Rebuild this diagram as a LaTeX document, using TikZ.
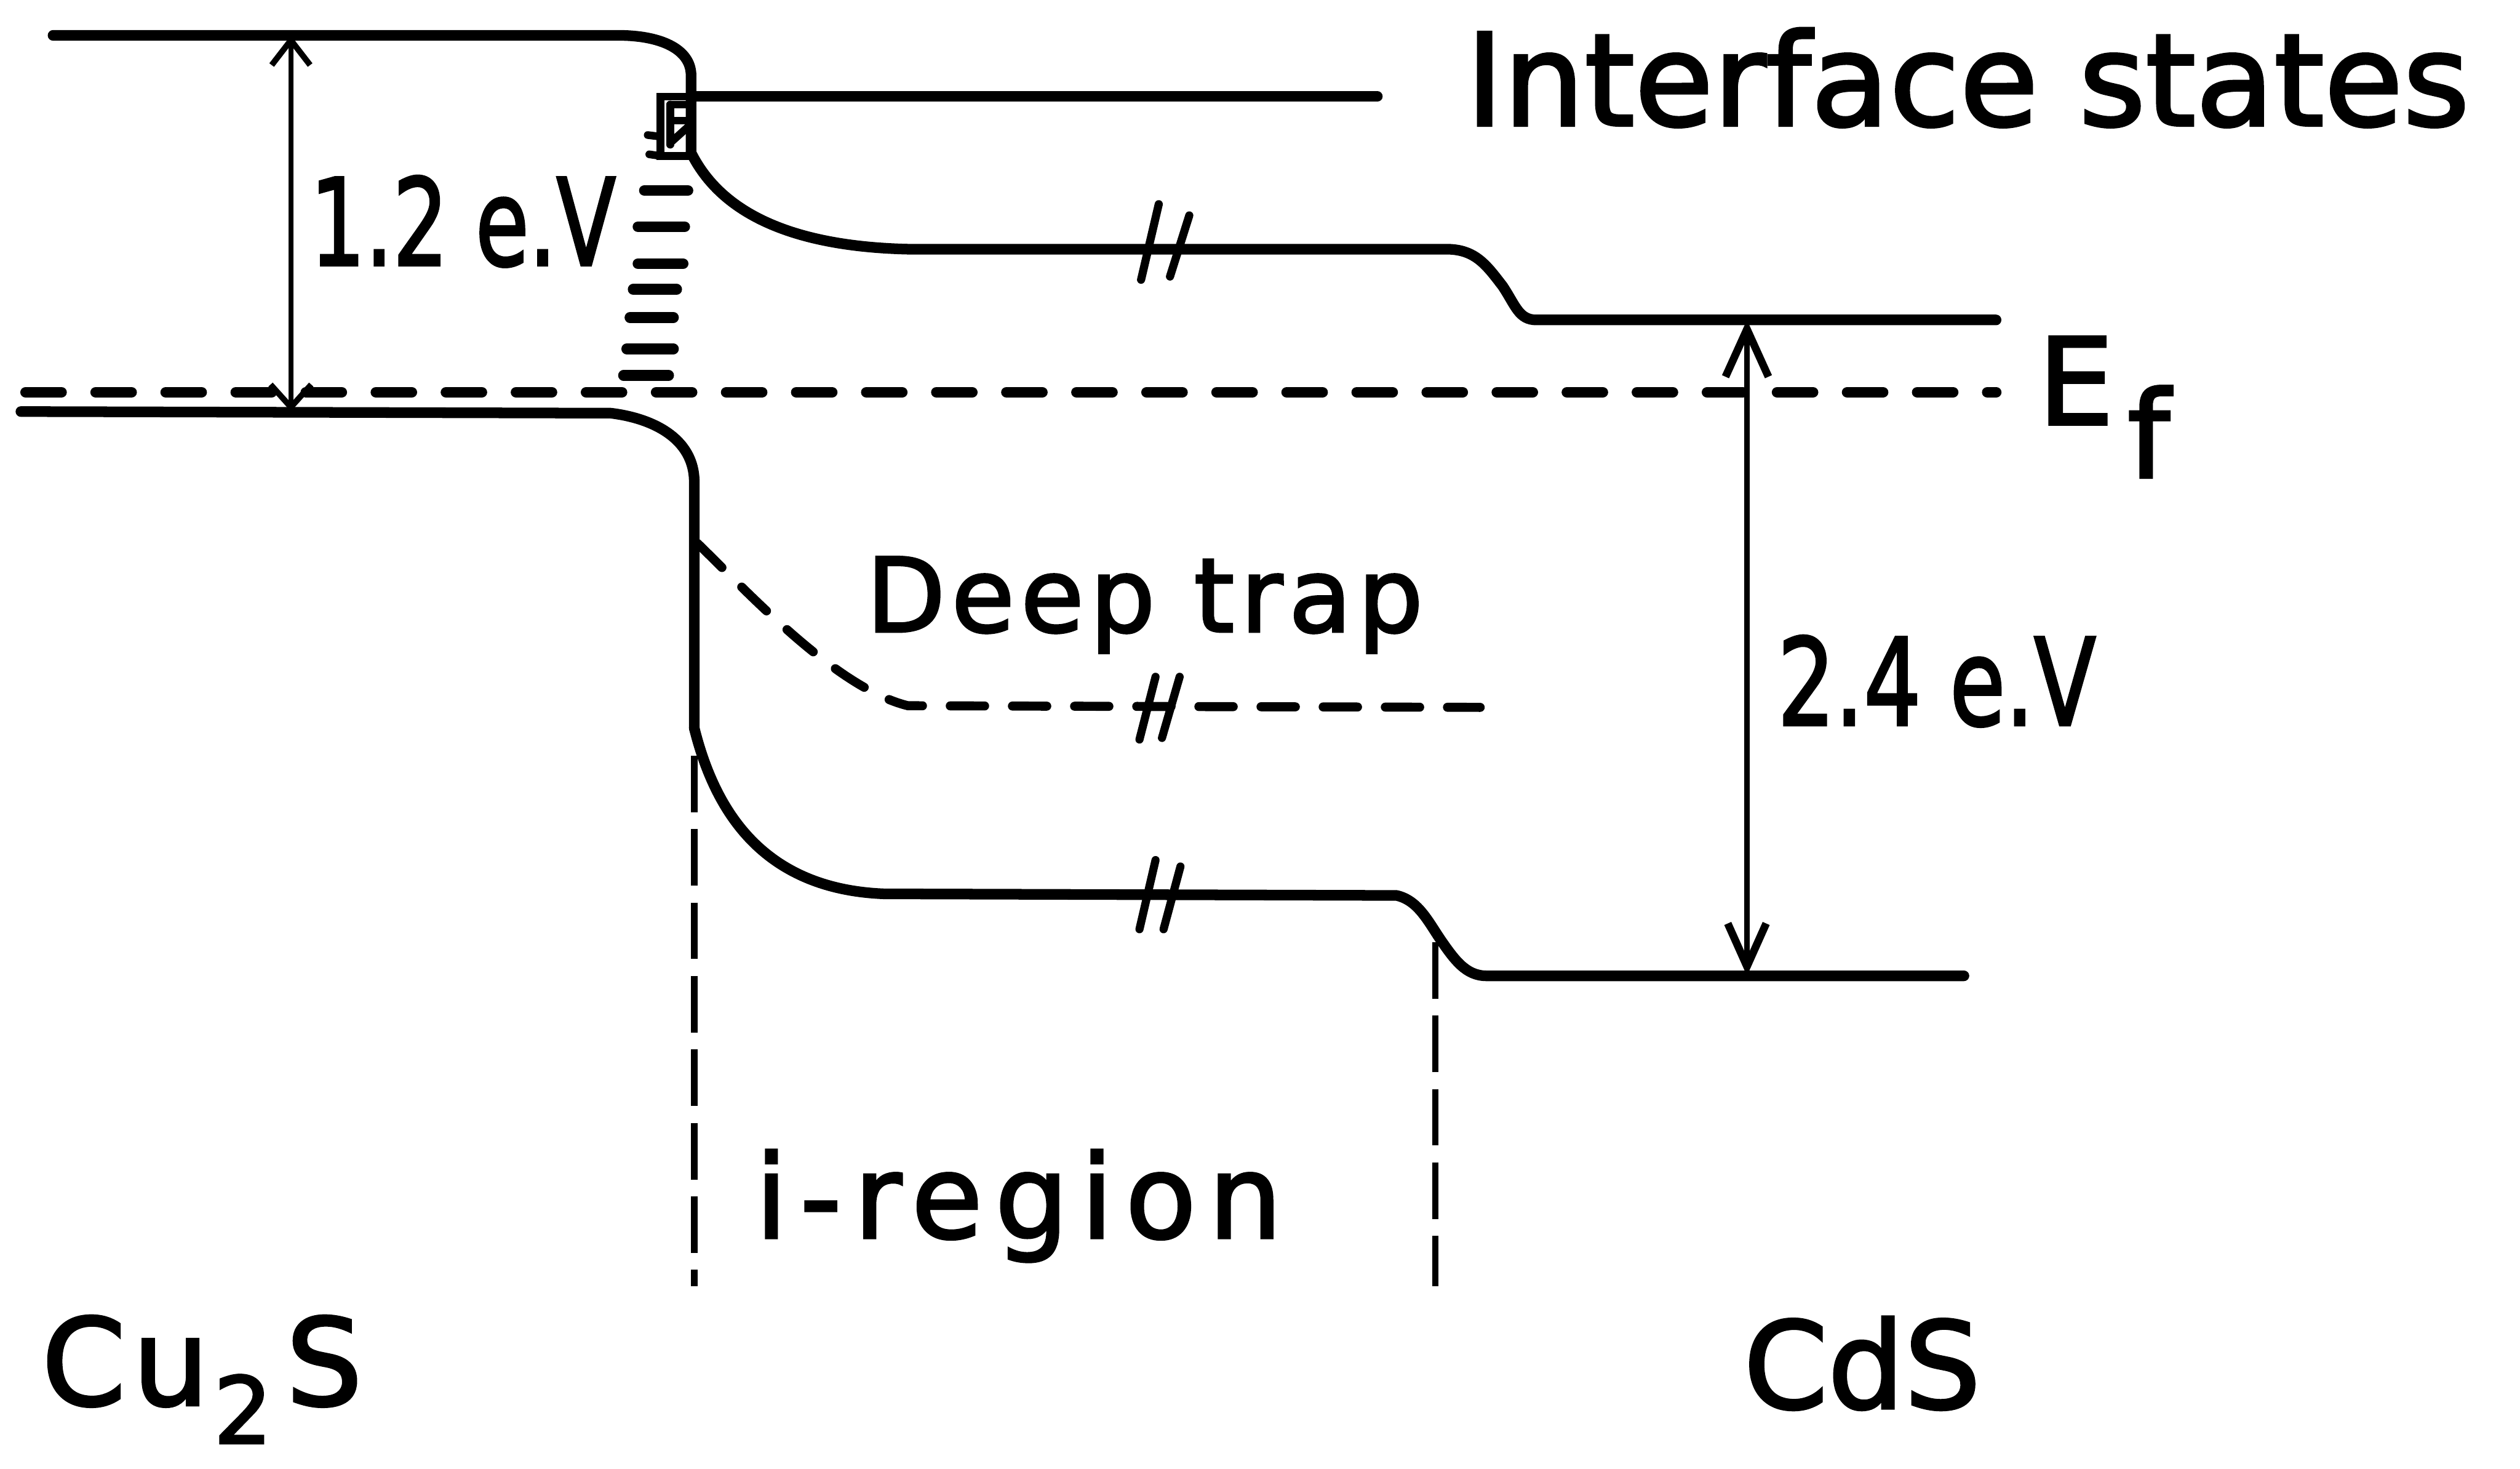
\documentclass[tikz,border=0pt]{standalone}
\usepackage{graphicx}
\usepackage{fontspec}
\setmainfont[FakeBold=2.2]{DejaVu Sans}
\usetikzlibrary{arrows.meta}
\begin{document}
\begin{tikzpicture}[x=0.025cm,y=-0.025cm,
  band/.style={line width=4.7pt,line cap=round,line join=round},
  efdash/.style={line width=4.8pt,line cap=round,dash pattern=on 15.8pt off 15.2pt},
  trapdash/.style={line width=4pt,line cap=round,dash pattern=on 15.2pt off 12.3pt},
  bounddash/.style={line width=2.8pt,dash pattern=on 25pt off 7.5pt},
  ladder/.style={line width=4.8pt,line cap=round},
  boxline/.style={line width=3.4pt,line cap=round},
  brk/.style={line width=3.6pt,line cap=round},
  dimA/.style={line width=2.3pt,{Straight Barb[length=11pt,width=17pt,line width=2.6pt]}-{Straight Barb[length=10pt,width=18pt,line width=2.6pt]}},
  dimB/.style={line width=2.5pt,{Straight Barb[length=21pt,width=19pt,line width=3.4pt]}-{Straight Barb[length=19pt,width=17pt,line width=3.4pt]}},
  lbl/.style={inner sep=0pt,outer sep=0pt,anchor=base west}
]
\useasboundingbox (0,0) rectangle (1568,913.7);

% Cu2S conduction band
\draw[band] (33,22) -- (385,22) .. controls (410,22) and (430,30) .. (430,47) -- (430,95);
% CdS conduction band
\draw[band] (430,95) .. controls (445,125) and (480,153) .. (565,155) -- (900,155)
  .. controls (918,155) and (925,165) .. (935,178) .. controls (943,190) and (945,199) .. (956,199) -- (1242,199);
% interface level
\draw[band] (430,60) -- (857,60);
% Cu2S valence band
\draw[band] (13,256) -- (380,257) .. controls (405,260) and (432,272) .. (432,300) -- (432,453);
% CdS valence band
\draw[band] (432,453) .. controls (445,505) and (475,553) .. (550,556) -- (869,557)
  .. controls (882,560) and (888,572) .. (896,584) .. controls (905,597) and (912,607) .. (925,607) -- (1222,607);
% Fermi level
\draw[efdash] (16,244) -- (1242,244);
% deep trap level
\draw[trapdash] (434,338) .. controls (465,368) and (520,428) .. (565,439) -- (921,440);

% interface states box
\draw[boxline] (411,60) rectangle (430,97);
\draw[boxline] (417,65) -- (430,65);
\draw[boxline] (417,75) -- (430,75);
\draw[boxline] (417,65) -- (417,90);
\draw[boxline] (418,88) -- (428,79);
\draw[boxline] (403,84) -- (411,85);
\draw[boxline] (404,96) -- (411,97);
% interface state ladder
\draw[ladder] (401,118.5) -- (428,118.5);
\draw[ladder] (397,141) -- (426,141);
\draw[ladder] (397,164) -- (425,164);
\draw[ladder] (394,180) -- (421,180);
\draw[ladder] (392,197.5) -- (419,197.5);
\draw[ladder] (390,217) -- (419,217);
\draw[ladder] (388,233.5) -- (416,233.5);

% break marks
\draw[brk] (710,174) -- (721,127);
\draw[brk] (728,172) -- (740,134);
\draw[brk] (709,460) -- (719,421);
\draw[brk] (723,459) -- (734,421);
\draw[brk] (709,578) -- (719,535);
\draw[brk] (724,578) -- (734.5,539);

% i-region boundaries
\draw[bounddash] (432,470) -- (432,800);
\draw[bounddash] (893,586) -- (893,800);

% energy gaps
\coordinate (a1t) at (181,22);
\coordinate (a1b) at (181,256);
\draw[dimA] (a1t) -- (a1b);
\coordinate (a2t) at (1087,199);
\coordinate (a2b) at (1087,607);
\draw[dimB] (a2t) -- (a2b);

% labels
\node[lbl,font=\fontsize{56.6pt}{60pt}\selectfont] (ifs) at (912,78) {Interface states};
\node[lbl,font=\fontsize{45.5pt}{50pt}\selectfont\addfontfeatures{LetterSpace=5.9}] (dtp) at (539,393) {Deep trap};
\node[lbl,font=\fontsize{51.2pt}{55pt}\selectfont\addfontfeatures{LetterSpace=10.7}] (irg) at (470,770) {i-region};
\node[lbl,font=\fontsize{53.3pt}{56pt}\selectfont] (e12) at (193,165) {\scalebox{0.72}[1]{1.2 e.V}};
\node[lbl,font=\fontsize{53.3pt}{56pt}\selectfont] (e24) at (1106,451) {\scalebox{0.75}[1]{2.4 e.V}};
\node[lbl,font=\fontsize{53.3pt}{56pt}\selectfont] (ef) at (1268,264) {E\kern6pt\raisebox{-23.5pt}{f}};
\node[lbl,font=\fontsize{53.3pt}{56pt}\selectfont] (cu) at (26,874) {C\kern3pt u\kern2pt\raisebox{-17pt}{\fontsize{41pt}{41pt}\selectfont 2}\kern6pt S};
\node[lbl,font=\fontsize{53.3pt}{56pt}\selectfont] (cds) at (1085,876) {CdS};
\end{tikzpicture}
\end{document}
